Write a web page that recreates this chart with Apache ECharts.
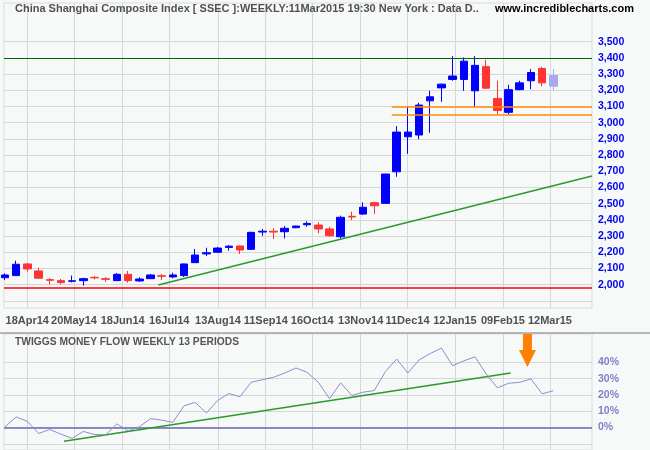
<!DOCTYPE html>
<html><head><meta charset="utf-8">
<script src="https://cdn.jsdelivr.net/npm/echarts@6/dist/echarts.min.js"></script>
<style>html,body{margin:0;padding:0;background:#f7f9f9}#c{width:650px;height:450px}</style>
</head><body><div id="c"></div>
<script>
// ---- data ----
const weeks = ['2014-04-04','2014-04-11','2014-04-18','2014-04-25','2014-05-02','2014-05-09','2014-05-16','2014-05-23','2014-05-30','2014-06-06',
  '2014-06-13','2014-06-20','2014-06-27','2014-07-04','2014-07-11','2014-07-18','2014-07-25','2014-08-01','2014-08-08','2014-08-15',
  '2014-08-22','2014-08-29','2014-09-05','2014-09-12','2014-09-19','2014-09-26','2014-10-03','2014-10-10','2014-10-17','2014-10-24',
  '2014-10-31','2014-11-07','2014-11-14','2014-11-21','2014-11-28','2014-12-05','2014-12-12','2014-12-19','2014-12-26','2015-01-02',
  '2015-01-09','2015-01-16','2015-01-23','2015-01-30','2015-02-06','2015-02-13','2015-02-20','2015-02-27','2015-03-06','2015-03-13'];
const opens  = [2043,2056,2128,2085,2031,2025,2021,2025,2045,2037, 2025,2064,2023,2037,2055,2048,2056,2136,2190,2200,
  2230,2239,2218,2325,2330,2327,2352,2370,2368,2344, 2296,2422,2436,2506,2502,2697,2913,2924,3135,3215,
  3267,3267,3197,3346,3150,3064,3204,3259,3335,3225];
const closes = [2060,2126,2097,2040,2027,2013,2024,2037,2042,2033, 2064,2025,2035,2060,2052,2060,2128,2183,2197,2226,
  2238,2214,2323,2330,2325,2348,2362,2378,2344,2302, 2416,2418,2478,2487,2683,2942,2942,3109,3160,3238,
  3288,3380,3354,3213,3075,3204,3246,3310,3246,3291];
const lows   = [2028,2054,2080,2038,2002,2003,2014,1994,2033,2018, 2024,2012,2017,2036,2029,2039,2048,2134,2177,2198,
  2210,2189,2214,2302,2282,2286,2348,2358,2317,2296, 2286,2399,2430,2436,2498,2666,2808,2897,2938,3129,
  3259,3197,3099,3210,3051,3051,3201,3207,3225,3201];
const highs  = [2070,2148,2134,2105,2040,2035,2056,2043,2055,2047, 2072,2085,2046,2066,2066,2074,2130,2220,2228,2233,
  2245,2241,2327,2344,2348,2362,2364,2391,2385,2358, 2426,2450,2508,2512,2685,2979,3099,3123,3197,3242,
  3411,3403,3411,3388,3259,3235,3259,3331,3345,3331];
const tmf = [0.4,6.5,3.8,-3.7,-1.2,-4.1,-6.7,-2.4,-4.3,-4.5, 2.2,-2.1,0.4,5.5,4.5,3.2,13.4,15.4,8.9,16.6,
  20.9,18.9,27.8,29.4,30.9,33.5,36.6,33.9,27.8,17.7, 27.4,19.7,21.7,22.7,34.5,42.1,33.5,41.5,45.5,48.8,
  38.0,41.0,43.5,32.9,24.4,27.2,27.8,29.9,20.7,22.6];
const xTickPos    = [1.99, 6.17, 10.52, 14.68, 19.03, 23.3, 27.46, 31.79, 35.97, 40.21, 44.5, 48.7];
const xTickLabels = ['18Apr14','20May14','18Jun14','16Jul14','13Aug14','11Sep14','16Oct14','13Nov14','11Dec14','12Jan15','09Feb15','12Mar15'];
const priceGrid   = [1900,2000,2100,2200,2300,2400,2500,2600,2700,2800,2900,3000,3100,3200,3300,3400,3500];
const priceLabels = [2000,2100,2200,2300,2400,2500,2600,2700,2800,2900,3000,3100,3200,3300,3400,3500];
const tmfGrid   = [-10,0,10,20,30,40];
const tmfLabels = [0,10,20,30,40];
const resistance = 3400;
const support = 1978;
const bandLevels = [3100, 3050];
const bandStart = 34.56;
const priceTrend = [[13.7, 1998], [52.458, 2671]];
const tmfTrend = [[5.27, -8.4], [45.19, 33.5]];
const arrowAt = [46.69, 47.4];

// ---- chart ----
const X_MIN = -0.0894, X_MAX = 52.458;
const UP = '#0000ff', DOWN = '#ff3333', LAST = '#a8a8f0';
const GRIDC = '#d5d8d8';
const BORDERC = '#dadcdc';
const FONT = 'Liberation Sans, Arial, sans-serif';
const chart = echarts.init(document.getElementById('c'), null, {renderer: 'canvas'});

const candles = weeks.map((w, i) => {
  const v = [i, opens[i], closes[i], lows[i], highs[i]];
  if (i === weeks.length - 1) {
    return {value: v, itemStyle: {color: LAST, color0: LAST, borderColor: LAST, borderColor0: LAST}};
  }
  return v;
});

function xAxisDef(gi, showLabels) {
  return {
    type: 'value', gridIndex: gi, min: X_MIN, max: X_MAX,
    axisLine: {show: false},
    axisTick: {show: false},
    splitLine: {show: false},
    axisLabel: showLabels ? {
      show: true, customValues: xTickPos, margin: 7,
      color: '#505050', fontWeight: 'bold', fontSize: 11, fontFamily: FONT,
      formatter: v => { const k = xTickPos.findIndex(p => Math.abs(p - v) < 1e-6); return k >= 0 ? xTickLabels[k] : ''; }
    } : {show: false}
  };
}

function yAxisDef(gi, min, max, labels, color, fmt) {
  return {
    type: 'value', gridIndex: gi, position: 'right', min: min, max: max,
    axisLine: {show: false}, axisTick: {show: false}, splitLine: {show: false},
    axisLabel: {customValues: labels, margin: 6, color: color, fontWeight: 'bold', fontSize: 10.5,
      fontFamily: FONT, formatter: fmt}
  };
}

// grid lines as mark lines on the (non-empty) trend-line series, which sit below the candles / TMF line
function gridMarkLine(yVals) {
  return {silent: true, symbol: 'none', label: {show: false}, animation: false, z: 1,
    lineStyle: {color: GRIDC, width: 1, type: 'solid'},
    data: [...yVals.map(v => ({yAxis: v})), ...xTickPos.map(v => ({xAxis: v}))]};
}

const option = {
  animation: false,
  backgroundColor: '#f7f9f9',
  title: [
    {text: 'China Shanghai Composite Index [ SSEC ]:WEEKLY:11Mar2015 19:30 New York : Data D..', left: 15, top: 3, padding: 0,
     textStyle: {fontSize: 11, fontWeight: 'bold', color: '#505050', fontFamily: FONT, lineHeight: 12}},
    {text: 'www.incrediblecharts.com', left: 495, top: 3, padding: 0,
     textStyle: {fontSize: 11, fontWeight: 'bold', color: '#000', fontFamily: FONT, lineHeight: 12}},
    {text: 'TWIGGS MONEY FLOW WEEKLY 13 PERIODS', left: 15, top: 336, padding: 0,
     textStyle: {fontSize: 10.25, fontWeight: 'bold', color: '#555', fontFamily: FONT, lineHeight: 12}}
  ],
  graphic: [{type: 'line', shape: {x1: 0, y1: 333, x2: 650, y2: 333}, style: {stroke: '#a0a0a0', lineWidth: 1.5}, z: 10}],
  grid: [
    {left: 4, right: 58, top: 3, height: 305, show: true, borderColor: BORDERC, borderWidth: 1},
    {left: 4, right: 58, top: 334, bottom: 0, show: true, borderColor: BORDERC, borderWidth: 1}
  ],
  xAxis: [xAxisDef(0, true), xAxisDef(1, false)],
  yAxis: [
    yAxisDef(0, 1856, 3739, priceLabels, '#0000ee', v => v.toLocaleString('en-US')),
    yAxisDef(1, -13.84, 57.5, tmfLabels, '#8080c8', v => v + '%')
  ],
  series: [
    {type: 'line', xAxisIndex: 0, yAxisIndex: 0, data: priceTrend, symbol: 'none', silent: true,
     lineStyle: {color: '#2a9a2a', width: 1.5}, z: 4, markLine: gridMarkLine(priceGrid)},
    {type: 'candlestick', xAxisIndex: 0, yAxisIndex: 0, data: candles, barWidth: 8,
     encode: {x: 0, y: [1, 2, 3, 4]},
     itemStyle: {color: UP, color0: DOWN, borderColor: UP, borderColor0: DOWN, borderWidth: 1},
     z: 6,
     markLine: {silent: true, symbol: 'none', label: {show: false}, z: 7,
       data: [
         {yAxis: resistance, lineStyle: {color: '#006400', width: 1.2, type: 'solid'}},
         {yAxis: support, lineStyle: {color: '#ff0000', width: 1.5, type: 'solid'}},
         ...bandLevels.map(b => [{coord: [bandStart, b]}, {coord: [X_MAX, b]}]).map(p => {
           p[0].lineStyle = {color: '#ff8c00', width: 1.5, type: 'solid'}; return p; })
       ]}},
    {type: 'line', xAxisIndex: 1, yAxisIndex: 1, data: tmf.map((v, i) => [i, v]), symbol: 'none', silent: true,
     lineStyle: {color: '#8c8cd2', width: 1}, z: 6,
     markLine: {silent: true, symbol: 'none', label: {show: false}, z: 3,
       data: [{yAxis: 0, lineStyle: {color: '#6a6ab8', width: 1.5, type: 'solid'}}]},
     markPoint: {silent: true, label: {show: false}, z: 8,
       data: [{coord: arrowAt, symbol: 'path://M4,0 L13,0 L13,16 L17,16 L8.5,33 L0,16 L4,16 Z',
               symbolSize: [17, 33], itemStyle: {color: '#ff8000'}}]}},
    {type: 'line', xAxisIndex: 1, yAxisIndex: 1, data: tmfTrend, symbol: 'none', silent: true,
     lineStyle: {color: '#2a9a2a', width: 1.5}, z: 4, markLine: gridMarkLine(tmfGrid)}
  ]
};
chart.setOption(option);
</script>
</body></html>
